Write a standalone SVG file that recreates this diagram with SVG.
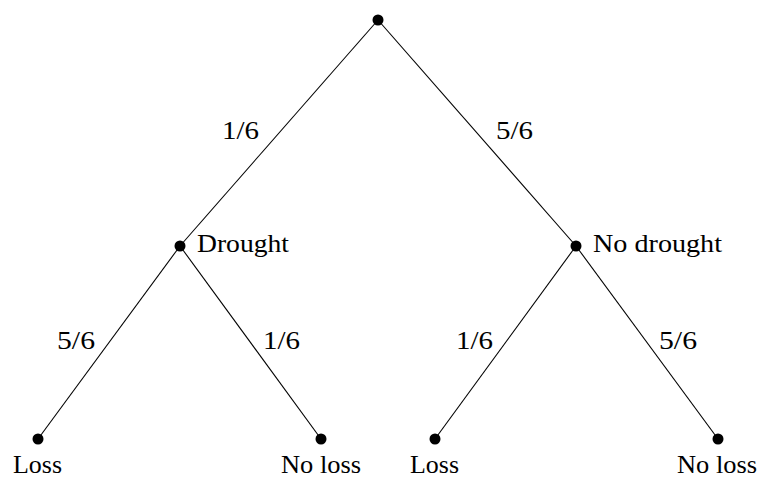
<svg xmlns="http://www.w3.org/2000/svg" width="764" height="479" viewBox="0 0 764 479" font-family="Liberation Serif, DejaVu Serif, serif" font-size="25">
<style>
.e{stroke:#000;stroke-width:1.1;fill:none}
.n{fill:#000}
</style>
<rect width="764" height="479" fill="#fff"/>
<g id="connectors">
<line class="e" x1="378" y1="20" x2="180" y2="246"/>
<line class="e" x1="378" y1="20" x2="576" y2="246"/>
<line class="e" x1="180" y1="246" x2="38" y2="439"/>
<line class="e" x1="180" y1="246" x2="321" y2="439"/>
<line class="e" x1="576" y1="246" x2="435" y2="439"/>
<line class="e" x1="576" y1="246" x2="718" y2="439"/>
<text x="222" y="139" textLength="37" lengthAdjust="spacingAndGlyphs">1/6</text>
<text x="496" y="139" textLength="37" lengthAdjust="spacingAndGlyphs">5/6</text>
<text x="57" y="349" textLength="38" lengthAdjust="spacingAndGlyphs">5/6</text>
<text x="263" y="349" textLength="37" lengthAdjust="spacingAndGlyphs">1/6</text>
<text x="456" y="349" textLength="37" lengthAdjust="spacingAndGlyphs">1/6</text>
<text x="659" y="349" textLength="38" lengthAdjust="spacingAndGlyphs">5/6</text>
</g>
<g id="root"><circle class="n" cx="378" cy="20" r="5.5"/></g>
<g id="drought"><circle class="n" cx="180" cy="246" r="5.5"/><text x="197" y="252" textLength="92" lengthAdjust="spacingAndGlyphs">Drought</text></g>
<g id="nodrought"><circle class="n" cx="576" cy="246" r="5.5"/><text x="593" y="252" textLength="129" lengthAdjust="spacingAndGlyphs">No drought</text></g>
<g id="loss1"><circle class="n" cx="38" cy="439" r="5.5"/><text x="13" y="473" textLength="49" lengthAdjust="spacingAndGlyphs">Loss</text></g>
<g id="noloss1"><circle class="n" cx="321" cy="439" r="5.5"/><text x="281" y="473" textLength="80" lengthAdjust="spacingAndGlyphs">No loss</text></g>
<g id="loss2"><circle class="n" cx="435" cy="439" r="5.5"/><text x="410" y="473" textLength="49" lengthAdjust="spacingAndGlyphs">Loss</text></g>
<g id="noloss2"><circle class="n" cx="718" cy="439" r="5.5"/><text x="677" y="473" textLength="80" lengthAdjust="spacingAndGlyphs">No loss</text></g>
</svg>
